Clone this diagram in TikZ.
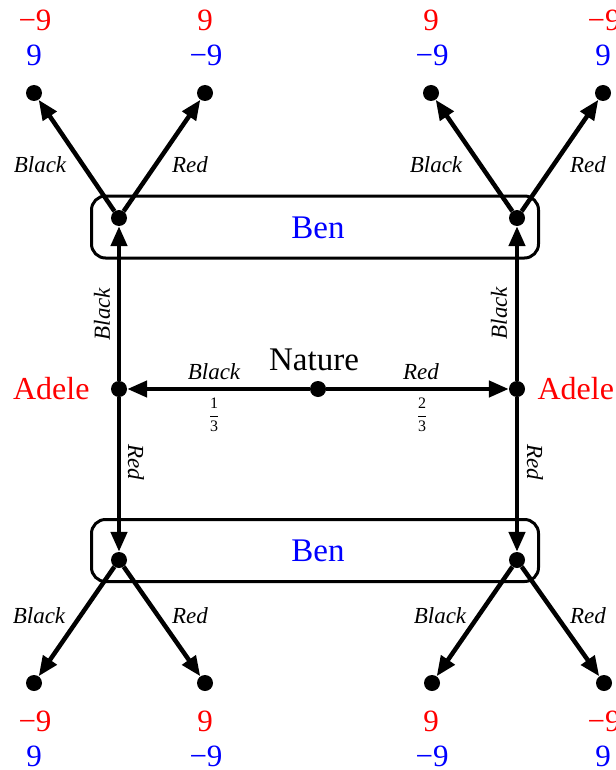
\documentclass[tikz,border=0pt]{standalone}
\usepackage{fontspec}
\setmainfont{Liberation Serif}
\usetikzlibrary{arrows.meta}
\begin{document}
\begin{tikzpicture}[x=1pt,y=-1pt,
  dot/.style={circle,fill=black,inner sep=0pt,minimum size=16pt},
  edge/.style={line width=4.5pt,-{Triangle[length=20pt,width=16pt]}},
  infoset/.style={draw,line width=3pt,rounded corners=14pt,minimum width=447pt,minimum height=62pt,inner sep=0pt},
  big/.style={font=\fontsize{33}{36}\selectfont},
  pay/.style={font=\fontsize{31}{34}\selectfont,anchor=base},
  lbl/.style={font=\fontsize{23}{26}\selectfont\itshape},
  frc/.style={font=\fontsize{16}{18}\selectfont,inner sep=0pt}]
\useasboundingbox (0,0) rectangle (615,770);
% information sets
\node[infoset] (I1) at (315,227) {};
\node[infoset] (I2) at (315,550.5) {};
\node[big,text=blue] (ben1) at (318,228) {Ben};
\node[big,text=blue] (ben2) at (318,551) {Ben};
% decision nodes
\node[dot] (N) at (318,389) {};
\node[dot] (A1) at (119,389) {};
\node[dot] (A2) at (517,389) {};
\node[dot] (B1) at (119,218) {};
\node[dot] (B2) at (517,218) {};
\node[dot] (B3) at (119,560) {};
\node[dot] (B4) at (517,560) {};
% leaves
\node[dot] (T1) at (34,93) {};
\node[dot] (T2) at (205,93) {};
\node[dot] (T3) at (431,93) {};
\node[dot] (T4) at (603,93) {};
\node[dot] (U1) at (34,683) {};
\node[dot] (U2) at (205,683) {};
\node[dot] (U3) at (432,683) {};
\node[dot] (U4) at (604,683) {};
% player labels
\node[big,anchor=base] (natl) at (314,370) {Nature};
\node[big,font=\fontsize{32}{36}\selectfont,text=red,anchor=base east] (adl1) at (93,399) {Adele};
\node[big,font=\fontsize{32}{36}\selectfont,text=red,anchor=base west] (adl2) at (534,399) {Adele};
% connectors
\draw[edge] (N) -- (A1);
\draw[edge] (N) -- (A2);
\draw[edge] (A1) -- (B1);
\draw[edge] (A1) -- (B3);
\draw[edge] (A2) -- (B2);
\draw[edge] (A2) -- (B4);
\draw[edge] (B1) -- (T1);
\draw[edge] (B1) -- (T2);
\draw[edge] (B2) -- (T3);
\draw[edge] (B2) -- (T4);
\draw[edge] (B3) -- (U1);
\draw[edge] (B3) -- (U2);
\draw[edge] (B4) -- (U3);
\draw[edge] (B4) -- (U4);
% edge labels
\node[lbl,anchor=base] (ln1) at (214,379) {Black};
\node[lbl,anchor=base] (ln2) at (421,379) {Red};
\node[frc] (pr1) at (214,415) {$\displaystyle\frac{\mbox{1}}{\mbox{3}}$};
\node[frc] (pr2) at (422,415) {$\displaystyle\frac{\mbox{2}}{\mbox{3}}$};
\node[lbl,rotate=90] (lv1) at (102,314) {Black};
\node[lbl,rotate=-90] (lv2) at (136,462) {Red};
\node[lbl,rotate=90] (lv3) at (499,313) {Black};
\node[lbl,rotate=-90] (lv4) at (535,462) {Red};
\node[lbl,anchor=base] (lt1) at (40,172) {Black};
\node[lbl,anchor=base] (lt2) at (190,172) {Red};
\node[lbl,anchor=base] (lt3) at (436,172) {Black};
\node[lbl,anchor=base] (lt4) at (588,172) {Red};
\node[lbl,anchor=base] (lb1) at (39,623) {Black};
\node[lbl,anchor=base] (lb2) at (190,623) {Red};
\node[lbl,anchor=base] (lb3) at (440,623) {Black};
\node[lbl,anchor=base] (lb4) at (588,623) {Red};
% payoffs top
\node[pay,text=red] (p1a) at (35,31) {−9};
\node[pay,text=blue] (p1b) at (34,66) {9};
\node[pay,text=red] (p2a) at (205,31) {9};
\node[pay,text=blue] (p2b) at (206,66) {−9};
\node[pay,text=red] (p3a) at (431,31) {9};
\node[pay,text=blue] (p3b) at (432,66) {−9};
\node[pay,text=red] (p4a) at (604,31) {−9};
\node[pay,text=blue] (p4b) at (603,66) {9};
% payoffs bottom
\node[pay,text=red] (q1a) at (35,731) {−9};
\node[pay,text=blue] (q1b) at (34,766) {9};
\node[pay,text=red] (q2a) at (205,731) {9};
\node[pay,text=blue] (q2b) at (206,766) {−9};
\node[pay,text=red] (q3a) at (431,731) {9};
\node[pay,text=blue] (q3b) at (432,766) {−9};
\node[pay,text=red] (q4a) at (604,731) {−9};
\node[pay,text=blue] (q4b) at (603,766) {9};
\end{tikzpicture}
\end{document}
